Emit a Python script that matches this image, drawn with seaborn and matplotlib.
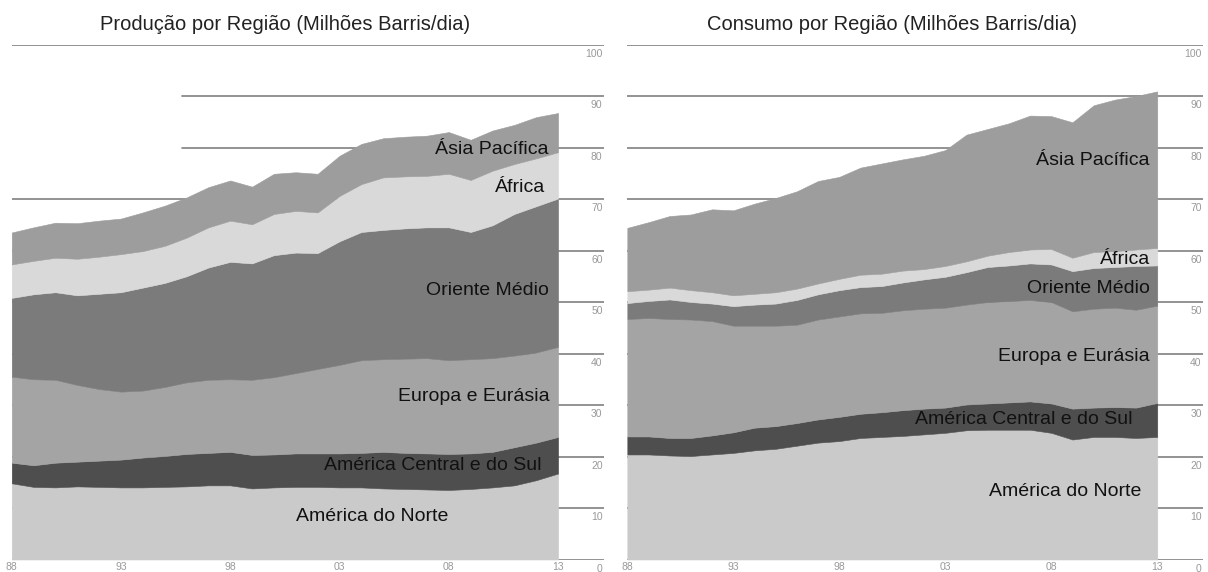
import numpy as np
import matplotlib
matplotlib.use("Agg")
import matplotlib.pyplot as plt
import matplotlib.transforms as mtransforms
import seaborn as sns

# anos 1988..2013
years = list(range(1988, 2014))

# Produção por região (milhões barris/dia)
prod_america_norte = [14.8, 14.1, 14.0, 14.2, 14.1, 14.0, 14.0, 14.1, 14.2, 14.4, 14.4, 13.8, 14.0,
                      14.1, 14.1, 14.0, 14.0, 13.8, 13.7, 13.6, 13.5, 13.7, 14.0, 14.4, 15.4, 16.7]
prod_america_cs = [4.0, 4.2, 4.8, 4.8, 5.1, 5.4, 5.8, 6.0, 6.3, 6.3, 6.5, 6.5, 6.4,
                   6.5, 6.5, 6.6, 6.7, 7.1, 7.0, 7.0, 7.0, 6.9, 6.9, 7.4, 7.3, 7.1]
prod_europa = [16.7, 16.7, 16.1, 14.9, 13.9, 13.2, 13.0, 13.4, 13.9, 14.2, 14.1, 14.6, 15.0,
               15.6, 16.4, 17.2, 18.0, 18.0, 18.3, 18.5, 18.2, 18.3, 18.2, 17.8, 17.5, 17.5]
prod_oriente = [15.3, 16.5, 17.0, 17.4, 18.5, 19.3, 20.0, 20.2, 20.6, 21.8, 22.8, 22.6, 23.7,
                23.4, 22.5, 24.0, 24.9, 25.1, 25.3, 25.4, 25.8, 24.7, 25.8, 27.5, 28.4, 28.8]
prod_africa = [6.5, 6.5, 6.7, 7.1, 7.2, 7.4, 7.1, 7.2, 7.5, 7.8, 8.0, 7.6, 8.0,
               8.1, 7.9, 8.8, 9.3, 10.2, 10.1, 10.0, 10.4, 10.1, 10.6, 9.7, 9.3, 9.0]
prod_asia = [6.2, 6.5, 6.8, 6.9, 7.0, 6.9, 7.5, 7.8, 7.8, 7.8, 7.8, 7.3, 7.8,
             7.5, 7.5, 7.8, 7.8, 7.6, 7.7, 7.8, 8.1, 7.8, 7.8, 7.6, 8.0, 7.6]

# Consumo por região (milhões barris/dia)
cons_america_norte = [20.4, 20.4, 20.2, 20.1, 20.4, 20.7, 21.2, 21.5, 22.1, 22.7, 23.0, 23.6, 23.8,
                      24.0, 24.3, 24.6, 25.1, 25.2, 25.2, 25.2, 24.6, 23.3, 23.8, 23.8, 23.6, 23.8]
cons_america_cs = [3.5, 3.5, 3.4, 3.5, 3.7, 4.0, 4.4, 4.4, 4.4, 4.5, 4.7, 4.7, 4.8,
                   5.0, 5.0, 4.9, 5.0, 5.1, 5.3, 5.5, 5.7, 6.0, 5.7, 5.8, 5.9, 6.6]
cons_europa = [22.8, 23.0, 23.1, 23.0, 22.2, 20.7, 19.8, 19.5, 19.1, 19.4, 19.5, 19.5, 19.3,
               19.4, 19.4, 19.4, 19.4, 19.7, 19.7, 19.7, 19.7, 18.9, 19.2, 19.3, 19.0, 18.9]
cons_oriente = [3.1, 3.3, 3.8, 3.4, 3.4, 3.8, 4.1, 4.3, 4.8, 4.9, 5.1, 5.1, 5.2,
                5.4, 5.7, 6.0, 6.3, 6.8, 6.9, 7.1, 7.3, 7.8, 7.9, 7.9, 8.5, 7.8]
cons_africa = [2.3, 2.2, 2.3, 2.3, 2.2, 2.1, 2.1, 2.2, 2.2, 2.1, 2.2, 2.4, 2.4,
               2.3, 2.0, 2.1, 2.1, 2.2, 2.6, 2.7, 3.0, 2.6, 3.1, 3.1, 3.2, 3.4]
cons_asia = [12.3, 13.1, 13.9, 14.7, 16.1, 16.5, 17.5, 18.3, 18.9, 19.9, 19.8, 20.8, 21.4,
             21.6, 22.0, 22.5, 24.6, 24.6, 25.0, 26.0, 25.8, 26.3, 28.5, 29.4, 29.8, 30.4]

regions = ["América do Norte", "América Central e do Sul", "Europa e Eurásia",
           "Oriente Médio", "África", "Ásia Pacífica"]
year_ticks = [1988, 1993, 1998, 2003, 2008, 2013]
year_labels = ["88", "93", "98", "03", "08", "13"]
y_ticks = list(range(0, 101, 10))

grays = sns.color_palette(["#cacaca", "#4e4e4e", "#a4a4a4", "#7b7b7b", "#d9d9d9", "#9d9d9d"])

sns.set_theme(style="white")
plt.rcParams["font.family"] = ["Liberation Sans", "DejaVu Sans"]

fig = plt.figure(figsize=(12.08, 5.72), dpi=100)
ax_prod = fig.add_axes([0.00969, 0.02185, 0.4903, 0.9003])
ax_cons = fig.add_axes([0.5193, 0.02185, 0.4766, 0.9003])


def draw_panel(ax, series, title, label_pos, xmax, short_lines=None):
    short_lines = short_lines or {}
    for v in y_ticks:
        ax.axhline(v, xmin=short_lines.get(v, 0.0), xmax=1.0, color="#808080", lw=1.2, zorder=0)
    ax.stackplot(years, *series, colors=grays, edgecolor="face", linewidth=0.4, zorder=2)

    ax.set_xlim(1988, xmax)
    ax.set_ylim(0, 100)
    sns.despine(ax=ax, left=True, bottom=True)

    ax.set_xticks(year_ticks)
    ax.set_xticklabels(year_labels)
    ax.set_yticks(y_ticks)
    ax.set_yticklabels([str(v) for v in y_ticks])
    ax.yaxis.tick_right()
    ax.tick_params(axis="x", length=0, pad=1.5, labelsize=7.5, labelcolor="#999999")
    ax.tick_params(axis="y", length=0, pad=-1, labelsize=7.5, labelcolor="#999999")
    shift = mtransforms.ScaledTranslation(0, -3 / 72, fig.dpi_scale_trans)
    for lab in ax.get_yticklabels():
        lab.set_horizontalalignment("right")
        lab.set_verticalalignment("top")
        lab.set_transform(lab.get_transform() + shift)

    trans = mtransforms.blended_transform_factory(ax.transData, fig.transFigure)
    ax.text(2000.5, 0.958, title, transform=trans, ha="center", va="center",
            fontsize=14.5, color="#222222")

    for name, (x, y) in zip(regions, label_pos):
        ax.text(x, y, name, ha="right", va="center", fontsize=14, color="#111111", zorder=3)


draw_panel(
    ax_prod,
    [prod_america_norte, prod_america_cs, prod_europa, prod_oriente, prod_africa, prod_asia],
    "Produção por Região (Milhões Barris/dia)",
    [(2008.0, 8.4), (2012.25, 18.3), (2012.6, 31.7), (2012.6, 52.2), (2012.4, 72.3), (2012.55, 79.7)],
    2015.1,
    short_lines={90: 0.287, 80: 0.287},
)
draw_panel(
    ax_cons,
    [cons_america_norte, cons_america_cs, cons_europa, cons_oriente, cons_africa, cons_asia],
    "Consumo por Região (Milhões Barris/dia)",
    [(2012.25, 13.2), (2011.85, 27.1), (2012.65, 39.5), (2012.65, 52.7), (2012.65, 58.2), (2012.65, 77.4)],
    2015.16,
)

fig.savefig("out.png", dpi=100, facecolor="white")
